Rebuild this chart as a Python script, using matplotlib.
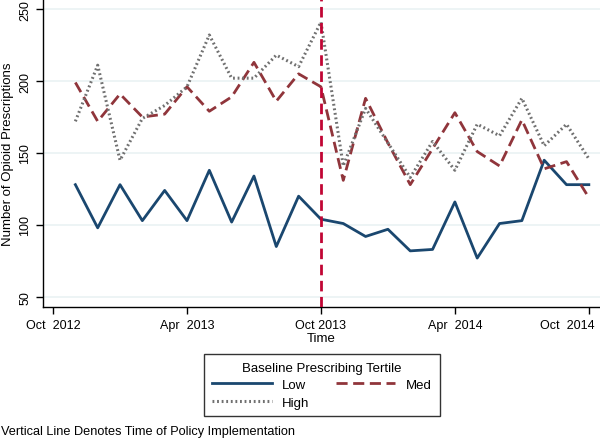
import numpy as np
import matplotlib
matplotlib.use('Agg')
import matplotlib.pyplot as plt
import matplotlib.transforms as mtransforms

plt.rcParams['font.family'] = ['Liberation Sans', 'DejaVu Sans']

# months since Oct 2012 (1 = Nov 2012 ... 24 = Oct 2014)
months = list(range(1, 25))
low = [128, 98, 128, 103, 124, 103, 138, 102, 134, 85, 120, 104,
       101, 92, 97, 82, 83, 116, 77, 101, 103, 145, 128, 128]
med = [199, 172, 191, 175, 177, 196, 179, 189, 213, 186, 205, 196,
       131, 188, 157, 128, 153, 178, 151, 141, 173, 139, 144, 119]
high = [172, 211, 145, 174, 183, 196, 232, 202, 202, 218, 210, 241,
        141, 181, 157, 133, 158, 138, 170, 162, 188, 155, 170, 146]

tick_pos = [0, 6, 12, 18, 24]
tick_labels = ['Oct  2012', 'Apr  2013', 'Oct 2013', 'Apr  2014', 'Oct  2014']
policy_month = 12

fig = plt.figure(figsize=(6, 4.39), dpi=100)
ax = fig.add_axes([43/600, 1 - 308/439, 1 - 43/600, 308/439])

for y in [50, 100, 150, 200, 250]:
    ax.axhline(y, color='#eaf2f3', lw=1.2, zorder=0)

l1, = ax.plot(months, low, color='#1a476f', lw=2, label='Low')
l2, = ax.plot(months, med, color='#90353b', lw=2, dashes=(4, 2), label='Med')
l3, = ax.plot(months, high, color='#707070', lw=2.2, dashes=(0.6, 0.9), label='High')
ax.axvline(policy_month, color='#c10534', lw=2, dashes=(3.8, 2), zorder=3)

ax.set_xlim(-0.45, 24.5)
ax.set_ylim(43, 257)
ax.set_yticks([50, 100, 150, 200, 250])
ax.set_yticklabels(['50', '100', '150', '200', '250'], rotation=90, va='center')
ax.set_xticks(tick_pos)
ax.set_xticklabels(tick_labels)
ax.tick_params(axis='both', labelsize=9, length=5, width=1, direction='out', color='black')
# last label pushed left so it stays inside the figure
last = ax.get_xticklabels()[-1]
last.set_transform(last.get_transform() + mtransforms.ScaledTranslation(-22/100, 0, fig.dpi_scale_trans))
ax.spines['top'].set_visible(False)
ax.spines['right'].set_visible(False)
ax.spines['left'].set_linewidth(1)
ax.spines['bottom'].set_linewidth(1)
ax.set_ylabel('Number of Opioid Prescriptions', fontsize=9.5, labelpad=4)
ax.set_xlabel('Time', fontsize=9.5, labelpad=1)

leg = fig.legend([l1, l3, l2], ['Low', 'High', 'Med'], ncol=2,
                 title='Baseline Prescribing Tertile', title_fontsize=9.5,
                 fontsize=9.5, loc='upper center', bbox_to_anchor=(322/600, 1 - 348/439),
                 frameon=True, fancybox=False, edgecolor='black', handlelength=4.5,
                 columnspacing=2.0, handletextpad=0.8, borderpad=0.6, labelspacing=0.4)
leg.get_frame().set_linewidth(1)

fig.text(0.002, 1 - 432/439, 'Vertical Line Denotes Time of Policy Implementation',
         fontsize=9.2, va='center', ha='left')

fig.savefig('out.png', dpi=100)
